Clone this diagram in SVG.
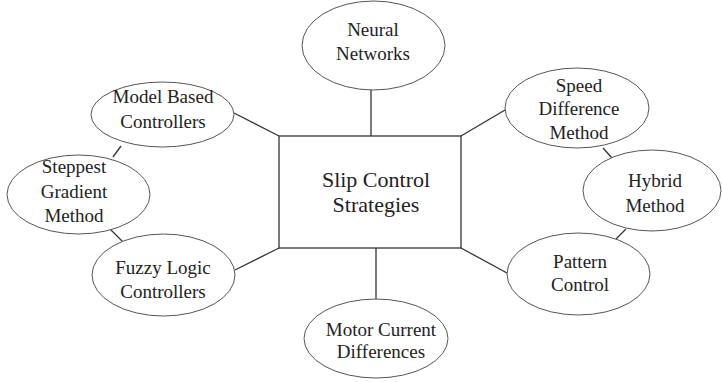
<svg xmlns="http://www.w3.org/2000/svg" width="722" height="382" viewBox="0 0 722 382">
<style>
.n{fill:#fff;stroke:#555;stroke-width:1}
.c{stroke:#333;stroke-width:1.3;fill:none}
text{font-family:"Liberation Serif","Times New Roman",serif;font-size:19px;fill:#222;text-anchor:middle}
.big{font-size:22px}
</style>
<rect width="722" height="382" fill="#fff"/>
<g id="connectors">
<line class="c" x1="371" y1="90" x2="371" y2="136"/>
<line class="c" x1="234" y1="113" x2="279" y2="136"/>
<line class="c" x1="121" y1="146" x2="113" y2="157"/>
<line class="c" x1="110" y1="229" x2="123" y2="242"/>
<line class="c" x1="235" y1="270" x2="279" y2="248"/>
<line class="c" x1="376" y1="248" x2="376" y2="299"/>
<line class="c" x1="461" y1="248" x2="507" y2="273"/>
<line class="c" x1="461" y1="136" x2="505" y2="110"/>
<line class="c" x1="603" y1="148" x2="612" y2="158"/>
<line class="c" x1="626" y1="229" x2="616" y2="239"/>
</g>
<g id="center">
<rect x="279" y="136" width="182" height="112" fill="#fff" stroke="#333" stroke-width="1.3"/>
<text class="big" x="376" y="187">Slip Control</text>
<text class="big" x="376" y="212">Strategies</text>
</g>
<g id="neural">
<ellipse class="n" cx="373.5" cy="45.5" rx="71.5" ry="44.5"/>
<text x="373" y="36">Neural</text>
<text x="373" y="60">Networks</text>
</g>
<g id="model">
<ellipse class="n" cx="162.5" cy="114.5" rx="71.5" ry="32.5"/>
<text x="163" y="103">Model Based</text>
<text x="163" y="128">Controllers</text>
</g>
<g id="steppest">
<ellipse class="n" cx="78.5" cy="194.5" rx="71.5" ry="39.5"/>
<text x="74" y="173">Steppest</text>
<text x="74" y="198">Gradient</text>
<text x="74" y="222">Method</text>
</g>
<g id="fuzzy">
<ellipse class="n" cx="163.5" cy="275" rx="71.5" ry="41"/>
<text x="163" y="274">Fuzzy Logic</text>
<text x="163" y="298">Controllers</text>
</g>
<g id="motor">
<ellipse class="n" cx="376" cy="338.5" rx="72" ry="39.5"/>
<text x="381" y="336">Motor Current</text>
<text x="381" y="358">Differences</text>
</g>
<g id="pattern">
<ellipse class="n" cx="578.5" cy="274" rx="71.5" ry="41"/>
<text x="580" y="268">Pattern</text>
<text x="580" y="291">Control</text>
</g>
<g id="hybrid">
<ellipse class="n" cx="652" cy="190.5" rx="69" ry="40.5"/>
<text x="655" y="187">Hybrid</text>
<text x="655" y="212">Method</text>
</g>
<g id="speed">
<ellipse class="n" cx="577" cy="108" rx="72" ry="40"/>
<text x="579" y="92">Speed</text>
<text x="579" y="115">Difference</text>
<text x="579" y="139">Method</text>
</g>
</svg>
